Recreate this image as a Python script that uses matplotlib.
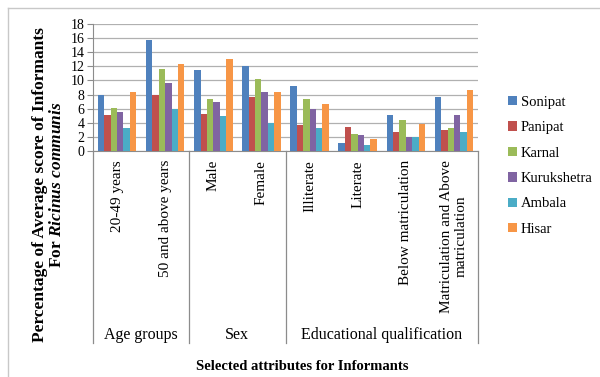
import matplotlib
matplotlib.use("Agg")
from matplotlib import pyplot as plt
from matplotlib.lines import Line2D
import matplotlib.transforms as mtransforms
import numpy as np

plt.rcParams['font.family'] = ['Liberation Serif', 'DejaVu Serif']
plt.rcParams['mathtext.fontset'] = 'custom'
plt.rcParams['mathtext.it'] = 'Liberation Serif:italic:bold'
plt.rcParams['mathtext.rm'] = 'Liberation Serif:bold'

categories = ["20-49 years", "50 and above years", "Male", "Female",
              "Illiterate", "Literate", "Below matriculation",
              "Matriculation and Above\nmatriculation"]
groups = ["Age groups", "Sex", "Educational qualification"]
group_sizes = [2, 2, 4]
districts = ["Sonipat", "Panipat", "Karnal", "Kurukshetra", "Ambala", "Hisar"]

sonipat = [7.9, 15.7, 11.5, 12.0, 9.2, 1.2, 5.1, 7.7]
panipat = [5.1, 8.0, 5.2, 7.6, 3.7, 3.4, 2.7, 3.0]
karnal = [6.1, 11.6, 7.4, 10.2, 7.4, 2.4, 4.4, 3.3]
kurukshetra = [5.5, 9.7, 6.9, 8.4, 6.0, 2.3, 2.0, 5.1]
ambala = [3.3, 6.0, 5.0, 4.0, 3.3, 0.9, 2.0, 2.7]
hisar = [8.4, 12.3, 13.0, 8.4, 6.6, 1.7, 3.8, 8.7]
series = [sonipat, panipat, karnal, kurukshetra, ambala, hisar]

colors = ["#4F81BD", "#C0504D", "#9BBB59", "#8064A2", "#4BACC6", "#F79646"]

fig = plt.figure(figsize=(6, 3.77), dpi=100)
W, H = 600, 377
ax_left, ax_right, ax_top, ax_bot = 93, 478, 24, 151
ax = fig.add_axes([ax_left / W, 1 - ax_bot / H, (ax_right - ax_left) / W, (ax_bot - ax_top) / H])

x = np.arange(len(categories))
bw = 0.133
for i, (vals, name) in enumerate(zip(series, districts)):
    ax.bar(x + (i - 2.5) * bw, vals, bw, color=colors[i], label=name, zorder=3)

ax.set_xlim(-0.5, len(categories) - 0.5)
ax.set_ylim(0, 18)
ax.set_yticks(range(0, 19, 2))
ax.yaxis.grid(True, color="#b0b0b0", linewidth=0.9, zorder=0)
ax.set_xticks([])
for s in ["top", "right"]:
    ax.spines[s].set_visible(False)
for s in ["left", "bottom"]:
    ax.spines[s].set_color("#8c8c8c")
ax.tick_params(axis="y", length=4, color="#8c8c8c", labelsize=10, pad=2)

# category labels and group separators
trans = mtransforms.blended_transform_factory(ax.transData, ax.transAxes)
axh = ax_bot - ax_top
for xi, lab in zip(x, categories):
    ax.text(xi, (ax_bot - 160) / axh, lab, rotation=90, ha="center", va="top",
            fontsize=11, transform=trans, multialignment="center")

sep_bottom = (ax_bot - 343) / axh
edges = np.concatenate([[0], np.cumsum(group_sizes)]) - 0.5
for e in edges:
    ax.add_line(Line2D([e, e], [0, sep_bottom], transform=trans, color="#8c8c8c",
                       linewidth=0.9, clip_on=False))
for g, a, b in zip(groups, edges[:-1], edges[1:]):
    ax.text((a + b) / 2, (ax_bot - 335) / axh, g, ha="center", va="center",
            fontsize=11.5, transform=trans)

fig.text(302 / W, 1 - 367 / H, "Selected attributes for Informants",
         ha="center", va="center", fontsize=10.5, fontweight="bold")
fig.text(40 / W, 1 - 185 / H, "Percentage of Average score of Informants",
         rotation=90, ha="center", va="center", fontsize=12.5, fontweight="bold")
fig.text(57 / W, 1 - 185 / H, r"For $\mathit{Ricinus\ communis}$",
         rotation=90, ha="center", va="center", fontsize=12.5, fontweight="bold")

ax.legend(loc="upper left", bbox_to_anchor=(502 / W, 1 - 90 / H),
          bbox_transform=fig.transFigure, frameon=False, fontsize=10.5,
          handlelength=0.6, handleheight=0.6, handletextpad=0.3,
          labelspacing=0.85, borderaxespad=0)

# outer chart frame
fig.add_artist(Line2D([8 / W, 8 / W], [0, 1 - 8 / H], transform=fig.transFigure,
                      color="#c8c8c8", linewidth=1))
fig.add_artist(Line2D([8 / W, 1], [1 - 8 / H, 1 - 8 / H], transform=fig.transFigure,
                      color="#c8c8c8", linewidth=1))

fig.savefig("out.png", dpi=100)
